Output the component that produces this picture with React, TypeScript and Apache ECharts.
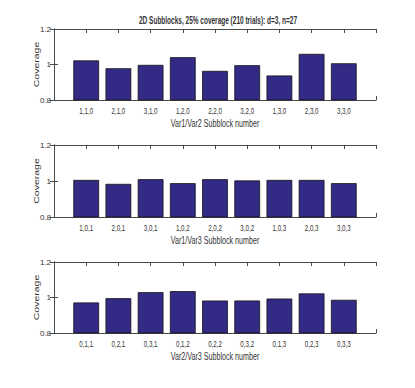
import React, { useEffect, useRef } from "react";
import * as echarts from "echarts";

const titleText = "2D Subblocks, 25% coverage (210 trials): d=3, n=27";

const cats1 = ["1,1,0", "2,1,0", "3,1,0", "1,2,0", "2,2,0", "3,2,0", "1,3,0", "2,3,0", "3,3,0"];
const vals1 = [1.023, 0.979, 0.998, 1.041, 0.964, 0.996, 0.938, 1.06, 1.007];
const name1 = "Var1/Var2 Subblock number";

const cats2 = ["1,0,1", "2,0,1", "3,0,1", "1,0,2", "2,0,2", "3,0,2", "1,0,3", "2,0,3", "3,0,3"];
const vals2 = [1.006, 0.984, 1.01, 0.988, 1.01, 1.003, 1.006, 1.006, 0.988];
const name2 = "Var1/Var3 Subblock number";

const cats3 = ["0,1,1", "0,2,1", "0,3,1", "0,1,2", "0,2,2", "0,3,2", "0,1,3", "0,2,3", "0,3,3"];
const vals3 = [0.972, 0.996, 1.03, 1.036, 0.983, 0.983, 0.994, 1.023, 0.987];
const name3 = "Var2/Var3 Subblock number";

const yName = "Coverage";
const yMin = 0.8;
const yMax = 1.2;
const yStep = 0.2;

const panels = [
  { cats: cats1, vals: vals1, name: name1, top: 29, height: 71 },
  { cats: cats2, vals: vals2, name: name2, top: 145, height: 72 },
  { cats: cats3, vals: vals3, name: name3, top: 262, height: 71 },
];

const GRID_LEFT = 54;
const GRID_WIDTH = 322;
const FONT = "'Liberation Sans', Arial, Helvetica, sans-serif";
const NARROW = "'Liberation Sans Narrow', 'Liberation Sans', Arial, sans-serif";
const LINE = "#4a4a4a";
const TXT = "#333333";
const SQUISH = 0.65;

export default function App() {
  const ref = useRef<HTMLDivElement>(null);
  useEffect(() => {
    if (!ref.current) return;
    const chart = echarts.init(ref.current, undefined, { renderer: "svg" });
    const grid: any[] = [];
    const xAxis: any[] = [];
    const yAxis: any[] = [];
    const series: any[] = [];
    const axisCommon = {
      axisLine: { show: true, lineStyle: { color: LINE, width: 1 } },
      axisTick: { show: true, inside: true, length: 4, lineStyle: { color: LINE } },
      splitLine: { show: false },
    };
    panels.forEach((p, i) => {
      grid.push({ left: GRID_LEFT, width: GRID_WIDTH, top: p.top, height: p.height, show: false });
      xAxis.push({
        type: "value", gridIndex: i, min: 0, max: 10, interval: 1, position: "bottom",
        ...axisCommon,
        axisLabel: { show: false },
      });
      xAxis.push({
        type: "value", gridIndex: i, min: 0, max: 10, interval: 1, position: "top",
        ...axisCommon,
        axisLabel: { show: false },
      });
      yAxis.push({
        type: "value", gridIndex: i, min: yMin, max: yMax, interval: yStep, position: "left",
        ...axisCommon,
        axisLabel: {
          fontFamily: NARROW,
          fontSize: 8,
          color: TXT,
          margin: 3,
          formatter: (v: number) => String(Math.round(v * 10) / 10),
        },
      });
      yAxis.push({
        type: "value", gridIndex: i, min: yMin, max: yMax, interval: yStep, position: "right",
        ...axisCommon,
        axisLabel: { show: false },
      });
      series.push({
        type: "bar",
        xAxisIndex: i * 2,
        yAxisIndex: i * 2,
        barWidth: "80%",
        data: p.vals.map((v, k) => [k + 1, v]),
        itemStyle: { color: "#332a85", borderColor: "#141414", borderWidth: 0.8 },
      });
    });
    chart.setOption({
      animation: false,
      backgroundColor: "#ffffff",
      grid,
      xAxis,
      yAxis,
      series,
    });

    // texts (horizontally condensed like the reference)
    const graphic: any[] = [];
    const hText = (text: string, x: number, y: number, size: number, bold = false) => ({
      type: "text",
      x,
      y,
      scaleX: SQUISH,
      silent: true,
      style: {
        text,
        fontFamily: FONT,
        fontSize: size,
        fontWeight: bold ? "bold" : "normal",
        fill: TXT,
        align: "center",
        verticalAlign: "middle",
      },
    });
    graphic.push(hText(titleText, 218, 20, 10, true));
    panels.forEach((p, i) => {
      const bottom = p.top + p.height;
      p.cats.forEach((c, k) => {
        const px = chart.convertToPixel({ xAxisIndex: i * 2 }, k + 1) as number;
        graphic.push(hText(c, px, bottom + 11, 9.5));
      });
      graphic.push(hText(p.name, GRID_LEFT + GRID_WIDTH / 2, bottom + 23.5, 11));
      graphic.push({
        type: "text",
        x: 36.5,
        y: p.top + p.height / 2,
        rotation: Math.PI / 2,
        scaleY: SQUISH,
        silent: true,
        style: {
          text: yName,
          fontFamily: FONT,
          fontSize: 10.5,
          fill: TXT,
          align: "center",
          verticalAlign: "middle",
        },
      });
    });
    chart.setOption({ graphic });
    return () => chart.dispose();
  }, []);
  return (
    <div
      ref={ref}
      style={{ position: "fixed", left: 0, top: 0, width: 415, height: 388, background: "#fff" }}
    />
  );
}
